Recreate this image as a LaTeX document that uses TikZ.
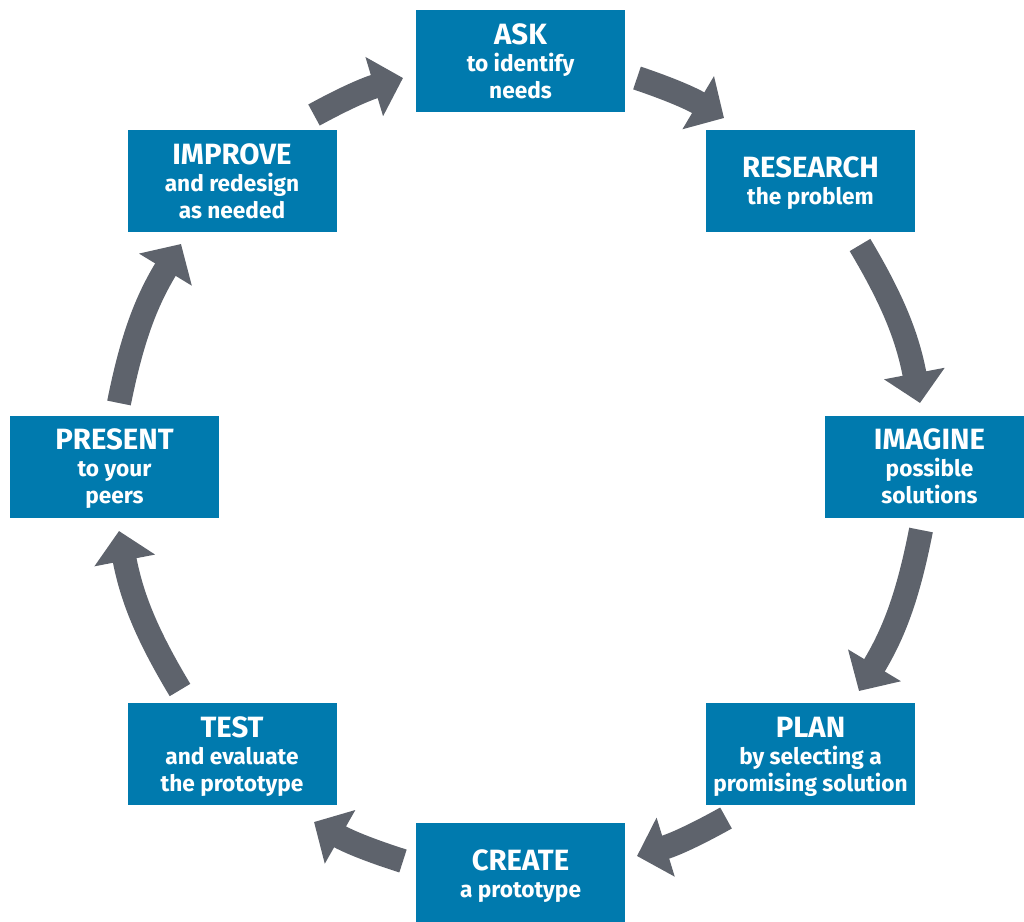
\documentclass[tikz,border=0pt]{standalone}
\usepackage{fontspec}
\setmainfont{Fira Sans}
\usepackage{tikz}
\usetikzlibrary{arrows.meta}
\definecolor{stepblue}{RGB}{0,122,174}
\definecolor{cyclegray}{RGB}{94,99,108}
\newcommand{\hd}[1]{{\fontsize{22}{26}\selectfont #1}}

\begin{document}
\begin{tikzpicture}[x=0.75pt,y=-0.75pt,
    stepbox/.style={fill=stepblue, text=white, minimum width=156.75pt, minimum height=76.5pt,
        inner sep=0pt, text depth=0pt, align=center, font=\bfseries\fontsize{17}{20.25}\selectfont},
    cyc/.style={draw=cyclegray, line width=18pt, -{Triangle[length=22.5pt,width=45pt]}}]
\useasboundingbox (0,0) rectangle (1024,921);
% steps
\node[stepbox] (ASK) at (520.5,61) {\hd{ASK}\\to identify\\needs};
\node[stepbox] (RES) at (810.5,181) {\hd{RESEARCH}\\the problem};
\node[stepbox] (IMA) at (929.5,466.5) {\hd{IMAGINE}\\possible\\solutions};
\node[stepbox] (PLAN) at (810.5,754) {\hd{PLAN}\\by selecting a\\promising solution};
\node[stepbox] (CRE) at (520.5,873.5) {\hd{CREATE}\\a prototype};
\node[stepbox] (TEST) at (232,754) {\hd{TEST}\\and evaluate\\the prototype};
\node[stepbox] (PRE) at (114.5,466.5) {\hd{PRESENT}\\to your\\peers};
\node[stepbox] (IMP) at (232,181) {\hd{IMPROVE}\\and redesign\\as needed};
% arrow ends
\coordinate (T1) at (637,78);  \coordinate (H1) at (724,118);
\coordinate (T2) at (860,245); \coordinate (H2) at (920,403);
\coordinate (T3) at (921,530); \coordinate (H3) at (859,691);
\coordinate (T4) at (726,818); \coordinate (H4) at (637,856);
\coordinate (T5) at (403,861); \coordinate (H5) at (314,822);
\coordinate (T6) at (180,690); \coordinate (H6) at (119,531);
\coordinate (T7) at (119,403); \coordinate (H7) at (181,244);
\coordinate (T8) at (314,115); \coordinate (H8) at (403,78);
\draw[cyc] (T1) to[bend left=6] (H1);
\draw[cyc] (T2) to[bend left=10] (H2);
\draw[cyc] (T3) to[bend left=10] (H3);
\draw[cyc] (T4) to[bend left=6] (H4);
\draw[cyc] (T5) to[bend left=6] (H5);
\draw[cyc] (T6) to[bend left=10] (H6);
\draw[cyc] (T7) to[bend left=10] (H7);
\draw[cyc] (T8) to[bend left=6] (H8);
\end{tikzpicture}
\end{document}
